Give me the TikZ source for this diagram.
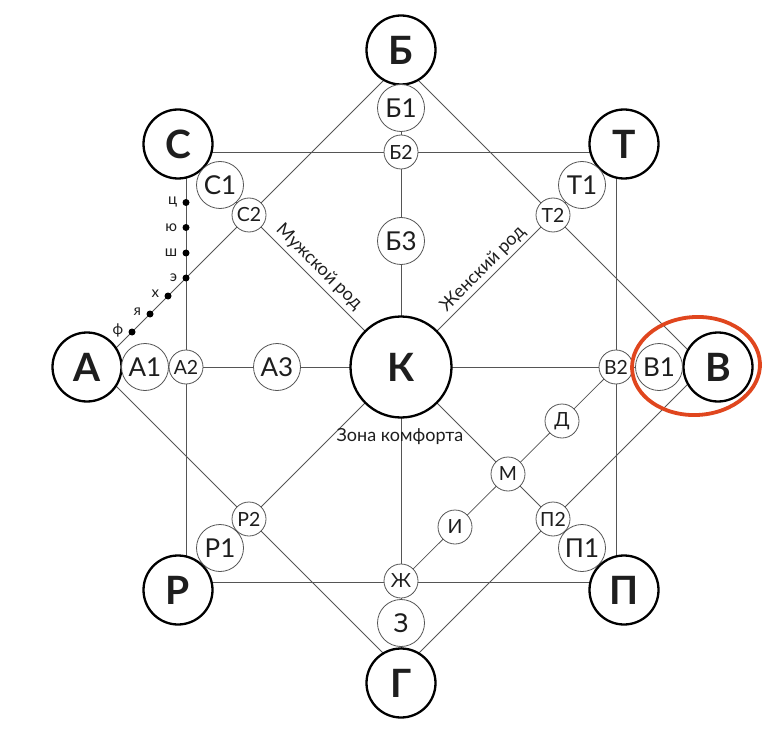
\documentclass[tikz,border=0pt]{standalone}
\usepackage{fontspec}
\setmainfont{Lato}
\usetikzlibrary{backgrounds,positioning}
\definecolor{linec}{HTML}{555555}
\definecolor{txtc}{HTML}{1E1E1E}
\definecolor{redc}{HTML}{E0461E}
\tikzset{
  bignode/.style={circle, draw=black, line width=2.3pt, fill=white, minimum size=69pt, inner sep=0pt, text=txtc, font=\bfseries\fontsize{39}{39}\selectfont},
  knode/.style={bignode, minimum size=101pt},
  lvone/.style={circle, draw=linec, line width=0.8pt, fill=white, minimum size=47pt, inner sep=0pt, text=txtc, font=\fontsize{26}{26}\selectfont},
  lvtwo/.style={circle, draw=linec, line width=0.8pt, fill=white, minimum size=34pt, inner sep=0pt, text=txtc, font=\fontsize{19.5}{19.5}\selectfont},
  dotnode/.style={circle, fill=black, minimum size=7pt, inner sep=0pt},
  dotlab/.style={text=txtc, inner sep=1pt, font=\fontsize{15}{15}\selectfont},
  conn/.style={draw=linec, line width=0.8pt},
  textlab/.style={text=txtc, inner sep=1pt, font=\fontsize{18}{18}\selectfont}
}
\begin{document}
\begin{tikzpicture}[x=1pt,y=-1pt]
\useasboundingbox (0,0) rectangle (784,743);
% big nodes
\node[bignode] (nB) at (401,50) {Б};
\node[bignode] (nS) at (178,144) {С};
\node[bignode] (nT) at (624,144) {Т};
\node[bignode] (nA) at (87,367) {А};
\node[bignode] (nV) at (718,367) {В};
\node[bignode] (nR) at (178,590) {Р};
\node[bignode] (nP) at (624,590) {П};
\node[bignode] (nG) at (401,683) {Г};
\node[knode] (nK) at (401,367) {К};
% level one
\node[lvone] (nB1) at (401,108) {Б1};
\node[lvone] (nB3) at (401,241) {Б3};
\node[lvone] (nS1) at (220,185) {С1};
\node[lvone] (nT1) at (582,185) {Т1};
\node[lvone] (nA1) at (145,367) {А1};
\node[lvone] (nA3) at (277,367) {А3};
\node[lvone] (nV1) at (659,367) {В1};
\node[lvone] (nR1) at (220,548) {Р1};
\node[lvone] (nP1) at (582,548) {П1};
\node[lvone] (nZ) at (401,623) {З};
% level two
\node[lvtwo] (nB2) at (401,152) {Б2};
\node[lvtwo] (nS2) at (249,215) {С2};
\node[lvtwo] (nT2) at (553,215) {Т2};
\node[lvtwo] (nR2) at (249,519) {Р2};
\node[lvtwo] (nP2) at (553,519) {П2};
\node[lvtwo] (nA2) at (186,367) {А2};
\node[lvtwo] (nV2) at (616,367) {В2};
\node[lvtwo] (nZh) at (401,581) {Ж};
\node[lvtwo] (nM) at (508,474) {М};
\node[lvtwo] (nI) at (455,527) {И};
\node[lvtwo] (nD) at (562,421) {Д};
% corners of square and diamond
\coordinate (cTL) at (186,152);
\coordinate (cTR) at (616,152);
\coordinate (cBR) at (616,582);
\coordinate (cBL) at (186,582);
\coordinate (dTop) at (401,63);
\coordinate (dRight) at (705,367);
\coordinate (dBottom) at (401,671);
\coordinate (dLeft) at (97,367);
% dots
\node[dotnode] (d1) at (186,202.5) {};
\node[dotnode] (d2) at (186,227.5) {};
\node[dotnode] (d3) at (186,253) {};
\node[dotnode] (d4) at (186,278) {};
\node[dotnode] (d5) at (168,296) {};
\node[dotnode] (d6) at (150,314) {};
\node[dotnode] (d7) at (132,332) {};
\node[dotlab, left=4pt of d1] (l1) {ц};
\node[dotlab, left=4pt of d2] (l2) {ю};
\node[dotlab, left=4pt of d3] (l3) {ш};
\node[dotlab, left=4pt of d4] (l4) {э};
\node[dotlab, left=4pt of d5, yshift=2pt] (l5) {х};
\node[dotlab, left=4pt of d6, yshift=2pt] (l6) {я};
\node[dotlab, left=4pt of d7, yshift=2pt] (l7) {ф};
% text labels
\node[textlab, rotate=-45] (tMale) at (319,267) {Мужской род};
\node[textlab, rotate=45] (tFemale) at (483,269) {Женский род};
\node[textlab] (tComfort) at (400,437) {Зона комфорта};
% red ellipse
\draw[redc, line width=3.8pt] (696,366) ellipse [x radius=64pt, y radius=49pt, rotate=3];
% connectors
\begin{scope}[on background layer]
\draw[conn] (nB.center) -- (nG.center);
\draw[conn] (nA.center) -- (nV.center);
\draw[conn] (cTL) -- (cTR) -- (cBR) -- (cBL) -- cycle;
\draw[conn] (nS.center) -- (nP.center);
\draw[conn] (nT.center) -- (nR.center);
\draw[conn] (dTop) -- (dRight) -- (dBottom) -- (dLeft) -- cycle;
\draw[conn] (nZh.center) -- (nV2.center);
\end{scope}
\end{tikzpicture}
\end{document}
